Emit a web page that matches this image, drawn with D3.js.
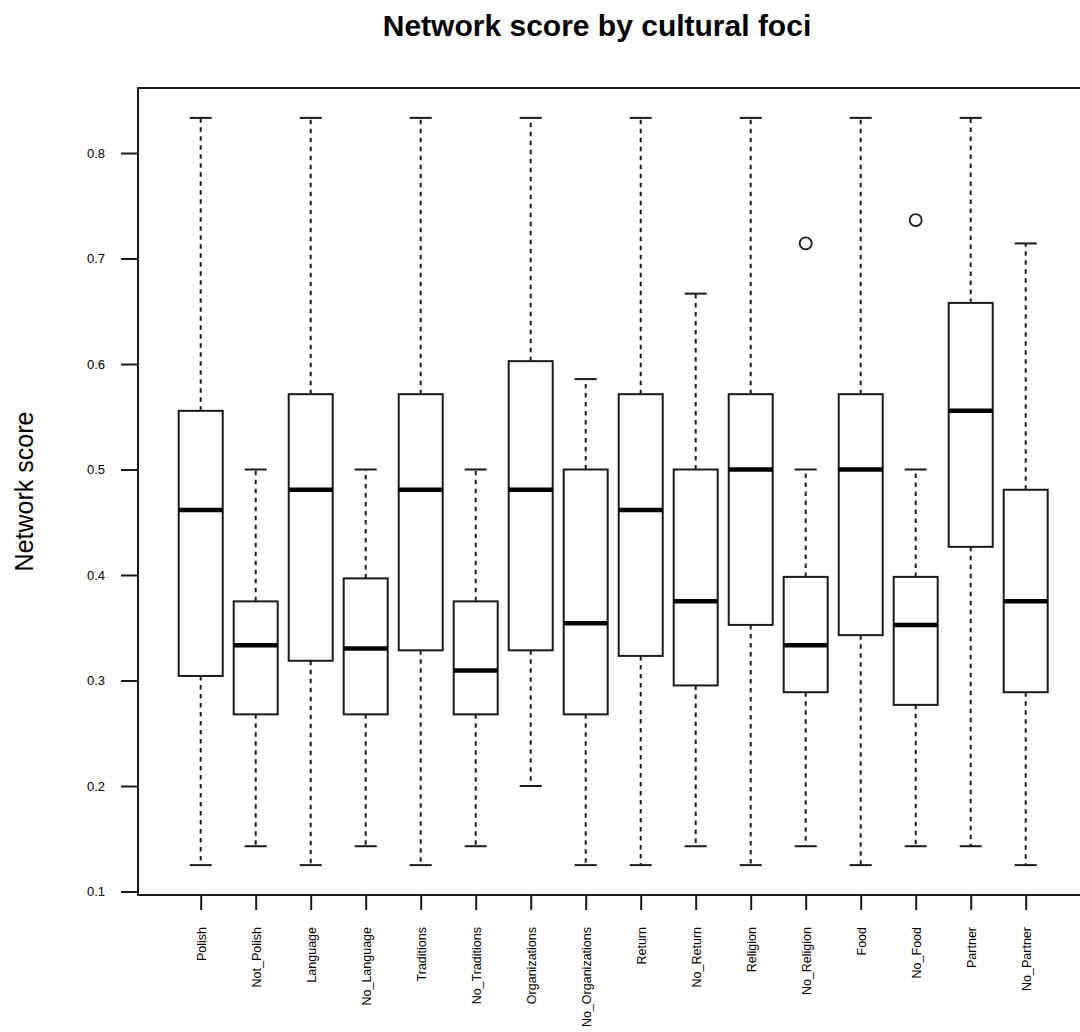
<!DOCTYPE html>
<html>
<head>
<meta charset="utf-8">
<script src="https://cdn.jsdelivr.net/npm/d3@7"></script>
<style>
  body { margin: 0; background: #fff; }
  svg { display: block; font-family: "Liberation Sans", Arial, Helvetica, sans-serif; }
</style>
</head>
<body>
<div id="chart"></div>
<script>
// Box statistics
const categories = ["Polish", "Not_Polish", "Language", "No_Language", "Traditions", "No_Traditions",
  "Organizations", "No_Organizations", "Return", "No_Return", "Religion", "No_Religion",
  "Food", "No_Food", "Partner", "No_Partner"];
const whiskerLow  = [0.125, 0.1429, 0.125, 0.1429, 0.125, 0.1429, 0.2, 0.125, 0.125, 0.1429, 0.125, 0.1429, 0.125, 0.1429, 0.1429, 0.125];
const q1          = [0.3043, 0.2679, 0.3187, 0.2679, 0.3286, 0.2679, 0.3286, 0.2679, 0.3233, 0.2953, 0.3527, 0.2889, 0.343, 0.2769, 0.4267, 0.2889];
const medians     = [0.4615, 0.3333, 0.4808, 0.3303, 0.4808, 0.3095, 0.4808, 0.3543, 0.4615, 0.375, 0.5, 0.3333, 0.5, 0.3527, 0.5556, 0.375];
const q3          = [0.5556, 0.375, 0.5714, 0.3968, 0.5714, 0.375, 0.6027, 0.5, 0.5714, 0.5, 0.5714, 0.3982, 0.5714, 0.3982, 0.6579, 0.4808];
const whiskerHigh = [0.8333, 0.5, 0.8333, 0.5, 0.8333, 0.5, 0.8333, 0.5857, 0.8333, 0.6667, 0.8333, 0.5, 0.8333, 0.5, 0.8333, 0.7143];
const outlierCats = ["No_Religion", "No_Food"];
const outlierVals = [0.7143, 0.7363];
const yTicks = [0.1, 0.2, 0.3, 0.4, 0.5, 0.6, 0.7, 0.8];

const W = 1080, H = 1032;
const plot = {left: 138, top: 88, right: 1088.4, bottom: 895};

const boxes = categories.map((c, i) => ({
  cat: c, pos: i + 1,
  lo: whiskerLow[i], q1: q1[i], med: medians[i], q3: q3[i], hi: whiskerHigh[i]
}));
const outliers = outlierCats.map((c, i) => ({pos: categories.indexOf(c) + 1, v: outlierVals[i]}));

// R-style limits: data range padded by 4%
const allV = whiskerLow.concat(whiskerHigh, outlierVals);
const vMin = d3.min(allV), vMax = d3.max(allV);
const pad = (vMax - vMin) * 0.04;
const xPad = categories.length * 0.04;

const x = d3.scaleLinear()
  .domain([0.5 - xPad, categories.length + 0.5 + xPad])
  .range([plot.left, plot.right]);
const y = d3.scaleLinear()
  .domain([vMin - pad, vMax + pad])
  .range([plot.bottom, plot.top]);

const boxW = (x(1) - x(0)) * 0.8;
const capW = boxW / 2;
const ink = "#1a1a1a";
const lw = 2;

const svg = d3.select("#chart").append("svg")
  .attr("width", W)
  .attr("height", H);

svg.append("rect").attr("width", W).attr("height", H).attr("fill", "#fff");

// Title
svg.append("text")
  .attr("x", 597)
  .attr("y", 36)
  .attr("text-anchor", "middle")
  .attr("font-size", 30)
  .attr("font-weight", "bold")
  .text("Network score by cultural foci");

// Y label
svg.append("text")
  .attr("transform", `translate(33, ${(plot.top + plot.bottom) / 2}) rotate(-90)`)
  .attr("text-anchor", "middle")
  .attr("font-size", 25)
  .text("Network score");

const g = svg.append("g");

// Whiskers (dashed)
g.selectAll(".wl").data(boxes).join("line")
  .attr("x1", d => x(d.pos)).attr("x2", d => x(d.pos))
  .attr("y1", d => y(d.q1)).attr("y2", d => y(d.lo))
  .attr("stroke", ink).attr("stroke-width", lw).attr("stroke-dasharray", "4.5,4.5");
g.selectAll(".wh").data(boxes).join("line")
  .attr("x1", d => x(d.pos)).attr("x2", d => x(d.pos))
  .attr("y1", d => y(d.q3)).attr("y2", d => y(d.hi))
  .attr("stroke", ink).attr("stroke-width", lw).attr("stroke-dasharray", "4.5,4.5");

// Caps
g.selectAll(".capl").data(boxes).join("line")
  .attr("x1", d => x(d.pos) - capW / 2).attr("x2", d => x(d.pos) + capW / 2)
  .attr("y1", d => y(d.lo)).attr("y2", d => y(d.lo))
  .attr("stroke", ink).attr("stroke-width", lw);
g.selectAll(".caph").data(boxes).join("line")
  .attr("x1", d => x(d.pos) - capW / 2).attr("x2", d => x(d.pos) + capW / 2)
  .attr("y1", d => y(d.hi)).attr("y2", d => y(d.hi))
  .attr("stroke", ink).attr("stroke-width", lw);

// Boxes
g.selectAll(".box").data(boxes).join("rect")
  .attr("x", d => x(d.pos) - boxW / 2)
  .attr("width", boxW)
  .attr("y", d => y(d.q3))
  .attr("height", d => y(d.q1) - y(d.q3))
  .attr("fill", "#fff")
  .attr("stroke", ink).attr("stroke-width", lw);

// Medians
g.selectAll(".med").data(boxes).join("line")
  .attr("x1", d => x(d.pos) - boxW / 2).attr("x2", d => x(d.pos) + boxW / 2)
  .attr("y1", d => y(d.med)).attr("y2", d => y(d.med))
  .attr("stroke", "#000").attr("stroke-width", 4.5);

// Outliers
g.selectAll(".out").data(outliers).join("circle")
  .attr("cx", d => x(d.pos)).attr("cy", d => y(d.v))
  .attr("r", 6)
  .attr("fill", "none")
  .attr("stroke", ink).attr("stroke-width", 1.8);

// Frame
svg.append("rect")
  .attr("x", plot.left).attr("y", plot.top)
  .attr("width", plot.right - plot.left).attr("height", plot.bottom - plot.top)
  .attr("fill", "none").attr("stroke", ink).attr("stroke-width", 2);

// Y axis
const yAxis = svg.append("g")
  .attr("transform", `translate(${plot.left},0)`)
  .call(d3.axisLeft(y).tickValues(yTicks).tickSize(17).tickPadding(16).tickFormat(d3.format(".1f")));
yAxis.select(".domain").remove();
yAxis.selectAll(".tick line").attr("stroke", ink).attr("stroke-width", lw);
yAxis.selectAll(".tick text")
  .attr("font-family", "Liberation Sans, Arial, sans-serif")
  .attr("font-size", 13).attr("fill", "#000");

// X axis
const xAxis = svg.append("g")
  .attr("transform", `translate(0,${plot.bottom})`)
  .call(d3.axisBottom(x).tickValues(d3.range(1, categories.length + 1)).tickSize(15).tickFormat(d => categories[d - 1]));
xAxis.select(".domain").remove();
xAxis.selectAll(".tick line").attr("stroke", ink).attr("stroke-width", lw);
xAxis.selectAll(".tick text")
  .attr("font-family", "Liberation Sans, Arial, sans-serif")
  .attr("font-size", 12.5).attr("fill", "#000")
  .attr("text-anchor", "end")
  .attr("transform", "rotate(-90)")
  .attr("x", -32)
  .attr("y", 0)
  .attr("dy", "0.35em");
</script>
</body>
</html>
